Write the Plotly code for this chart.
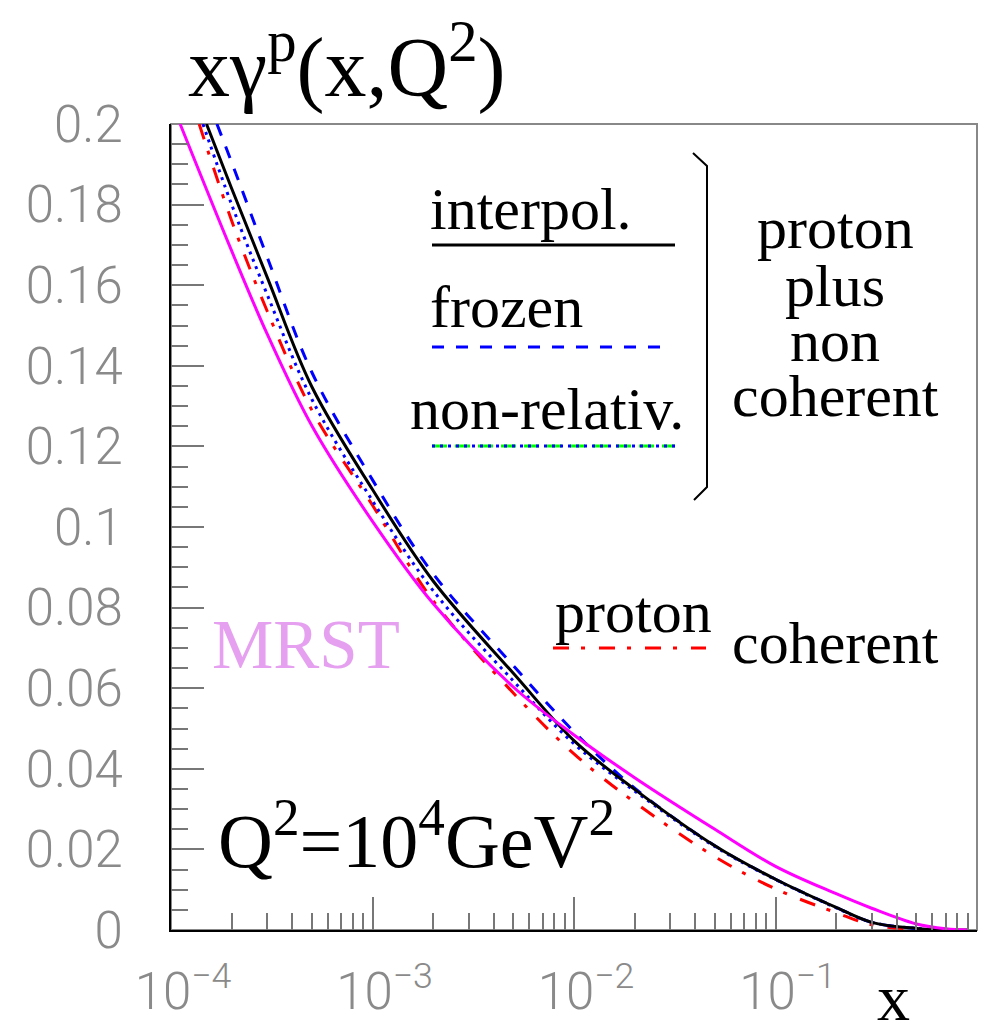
import plotly.graph_objects as go

# ---- data ----
interp_x = [1.5e-4, 2e-4, 3e-4, 5e-4, 1e-3, 2e-3, 5e-3, 1e-2, 2e-2, 5e-2, 0.1, 0.2, 0.3, 0.5, 0.7, 0.9]
interp_y = [0.200, 0.184, 0.162, 0.1348, 0.1093, 0.0866, 0.0637, 0.0470, 0.0349, 0.0209, 0.0126, 0.0056, 0.0019, 0.0004, 0.0, 0.0]

frozen_x = [1.69e-4, 2e-4, 3e-4, 5e-4, 1e-3, 2e-3, 5e-3, 1e-2, 2e-2, 5e-2, 0.1, 0.2, 0.3, 0.5, 0.7]
frozen_y = [0.200, 0.1905, 0.167, 0.1384, 0.1117, 0.0884, 0.0656, 0.0492, 0.0352, 0.0209, 0.0126, 0.0056, 0.0019, 0.0004, 0.0]

nonrel_x = [1.44e-4, 2e-4, 3e-4, 5e-4, 1e-3, 2e-3, 5e-3, 1e-2, 2e-2, 5e-2, 0.1, 0.2, 0.3, 0.5, 0.7]
nonrel_y = [0.200, 0.180, 0.1577, 0.1317, 0.1065, 0.0842, 0.0618, 0.0462, 0.0345, 0.0207, 0.0125, 0.0055, 0.0019, 0.0004, 0.0]

coh_x = [1.38e-4, 2e-4, 3e-4, 5e-4, 1e-3, 2e-3, 5e-3, 1e-2, 2e-2, 5e-2, 0.1, 0.2, 0.3, 0.5, 0.7]
coh_y = [0.200, 0.176, 0.1536, 0.129, 0.1054, 0.0817, 0.0588, 0.0437, 0.0317, 0.0182, 0.0102, 0.0043, 0.0013, 0.0002, 0.0]

mrst_x = [1.11e-4, 2e-4, 3e-4, 5e-4, 1e-3, 2e-3, 5e-3, 1e-2, 2e-2, 5e-2, 0.1, 0.2, 0.3, 0.5, 0.7, 0.9]
mrst_y = [0.200, 0.1685, 0.1479, 0.1251, 0.1014, 0.081, 0.0603, 0.0484, 0.0378, 0.025, 0.0158, 0.009, 0.0054, 0.0015, 0.0003, 0.0]

x_tickvals = [1e-4, 1e-3, 1e-2, 1e-1, 1]
x_ticktext = ["10<sup>\u22124</sup>", "10<sup>\u22123</sup>", "10<sup>\u22122</sup>", "10<sup>\u22121</sup>", "1\u2007\u2007"]
y_tickvals = [0, 0.02, 0.04, 0.06, 0.08, 0.1, 0.12, 0.14, 0.16, 0.18, 0.2]
y_ticktext = ["0", "0.02", "0.04", "0.06", "0.08", "0.1", "0.12", "0.14", "0.16", "0.18", "0.2"]
x_minor = [m * 10.0 ** e for e in (-4, -3, -2, -1) for m in range(2, 10)]
y_minor = [i * 0.005 for i in range(41) if i % 4 != 0]

# ---- figure geometry ----
W, H = 981, 1033
L, R, T, B = 171, 977, 124, 930


def px(xp):
    return (xp - L) / (R - L)


def py(yp):
    return (B - yp) / (B - T)


SERIF = "Liberation Serif, Times New Roman, serif"
TICKFONT = dict(family="Roboto, DejaVu Sans", size=51, color="#8a8a8a", weight=300)

fig = go.Figure()
fig.add_trace(go.Scatter(x=coh_x, y=coh_y, mode="lines", name="proton coherent",
                         line=dict(color="#ff0000", width=3, dash="16px,12px,4px,14px", shape="spline")))
fig.add_trace(go.Scatter(x=frozen_x, y=frozen_y, mode="lines", name="frozen",
                         line=dict(color="#0000ff", width=3, dash="12px,12px", shape="spline")))
fig.add_trace(go.Scatter(x=nonrel_x, y=nonrel_y, mode="lines", name="non-relativ.",
                         line=dict(color="#0000ff", width=3, dash="3px,5px", shape="spline")))
fig.add_trace(go.Scatter(x=interp_x, y=interp_y, mode="lines", name="interpol.",
                         line=dict(color="#000000", width=3, shape="spline")))
fig.add_trace(go.Scatter(x=mrst_x, y=mrst_y, mode="lines", name="MRST",
                         line=dict(color="#ff00ff", width=3, shape="spline")))

shapes = []
# frame (top/right light)
shapes.append(dict(type="rect", xref="paper", yref="paper", x0=0, y0=0, x1=1, y1=1,
                   line=dict(color="#888888", width=2), layer="below"))
# legend samples
shapes.append(dict(type="line", xref="paper", yref="paper", x0=px(432), x1=px(675), y0=py(245), y1=py(245),
                   line=dict(color="black", width=3)))
shapes.append(dict(type="line", xref="paper", yref="paper", x0=px(432), x1=px(665), y0=py(347), y1=py(347),
                   line=dict(color="#0000ff", width=3, dash="12px,12px")))
shapes.append(dict(type="line", xref="paper", yref="paper", x0=px(432), x1=px(675), y0=py(446), y1=py(446),
                   line=dict(color="#00ff00", width=3, dash="15px,8px")))
shapes.append(dict(type="line", xref="paper", yref="paper", x0=px(432), x1=px(675), y0=py(446), y1=py(446),
                   line=dict(color="#0000ff", width=3, dash="3px,5px")))
shapes.append(dict(type="line", xref="paper", yref="paper", x0=px(553), x1=px(706), y0=py(648), y1=py(648),
                   line=dict(color="#ff0000", width=3, dash="16px,12px,4px,14px")))
# bracket
shapes.append(dict(type="path", xref="paper", yref="paper",
                   path="M %f %f L %f %f L %f %f L %f %f" % (px(693), py(153), px(707), py(166), px(707), py(487), px(694), py(500)),
                   line=dict(color="black", width=2)))

annotations = []


def txt(s, x, y, size, xanchor="left", yanchor="middle", color="black"):
    annotations.append(dict(text=s, x=px(x), y=py(y), xref="paper", yref="paper", showarrow=False,
                            xanchor=xanchor, yanchor=yanchor,
                            font=dict(family=SERIF, size=size, color=color)))


txt("x\u03b3<sup>p</sup>(x,Q<sup>2</sup>)", 186, 62, 84)
txt("interpol.", 428, 209, 60)
txt("frozen", 428, 307, 60)
txt("non-relativ.", 408, 409, 60)
txt("proton", 835, 228, 60, xanchor="center")
txt("plus", 835, 286, 60, xanchor="center")
txt("non", 835, 341, 60, xanchor="center")
txt("coherent", 835, 396, 60, xanchor="center")
txt("proton", 553, 612, 60)
txt("coherent", 730, 643, 60)
txt("MRST", 210, 645, 69, color="#e6a0f0")
txt("Q<sup>2</sup>=10<sup>4</sup>GeV<sup>2</sup>", 216, 835, 76)
txt("x", 893, 998, 66, xanchor="center")

fig.update_layout(
    width=W, height=H,
    margin=dict(l=L, r=W - R, t=T, b=H - B, pad=0),
    paper_bgcolor="white", plot_bgcolor="white",
    showlegend=False,
    shapes=shapes, annotations=annotations,
    xaxis=dict(type="log", range=[-4, 0], tickmode="array", tickvals=x_tickvals, ticktext=x_ticktext,
               ticks="inside", ticklen=33, tickwidth=2, tickcolor="#777777",
               minor=dict(tickmode="array", tickvals=x_minor, ticks="inside", ticklen=17, tickwidth=2, tickcolor="#777777"),
               showline=True, linecolor="black", linewidth=2, showgrid=False, zeroline=False,
               tickfont=TICKFONT, ticklabelstandoff=16, ticklabelshift=12),
    yaxis=dict(range=[0, 0.2], tickmode="array", tickvals=y_tickvals, ticktext=y_ticktext,
               ticks="inside", ticklen=33, tickwidth=2, tickcolor="#777777",
               minor=dict(tickmode="array", tickvals=y_minor, ticks="inside", ticklen=17, tickwidth=2, tickcolor="#777777"),
               showline=True, linecolor="black", linewidth=2, showgrid=False, zeroline=False,
               tickfont=TICKFONT, ticklabelstandoff=36),
)

fig.write_html("out.html")
